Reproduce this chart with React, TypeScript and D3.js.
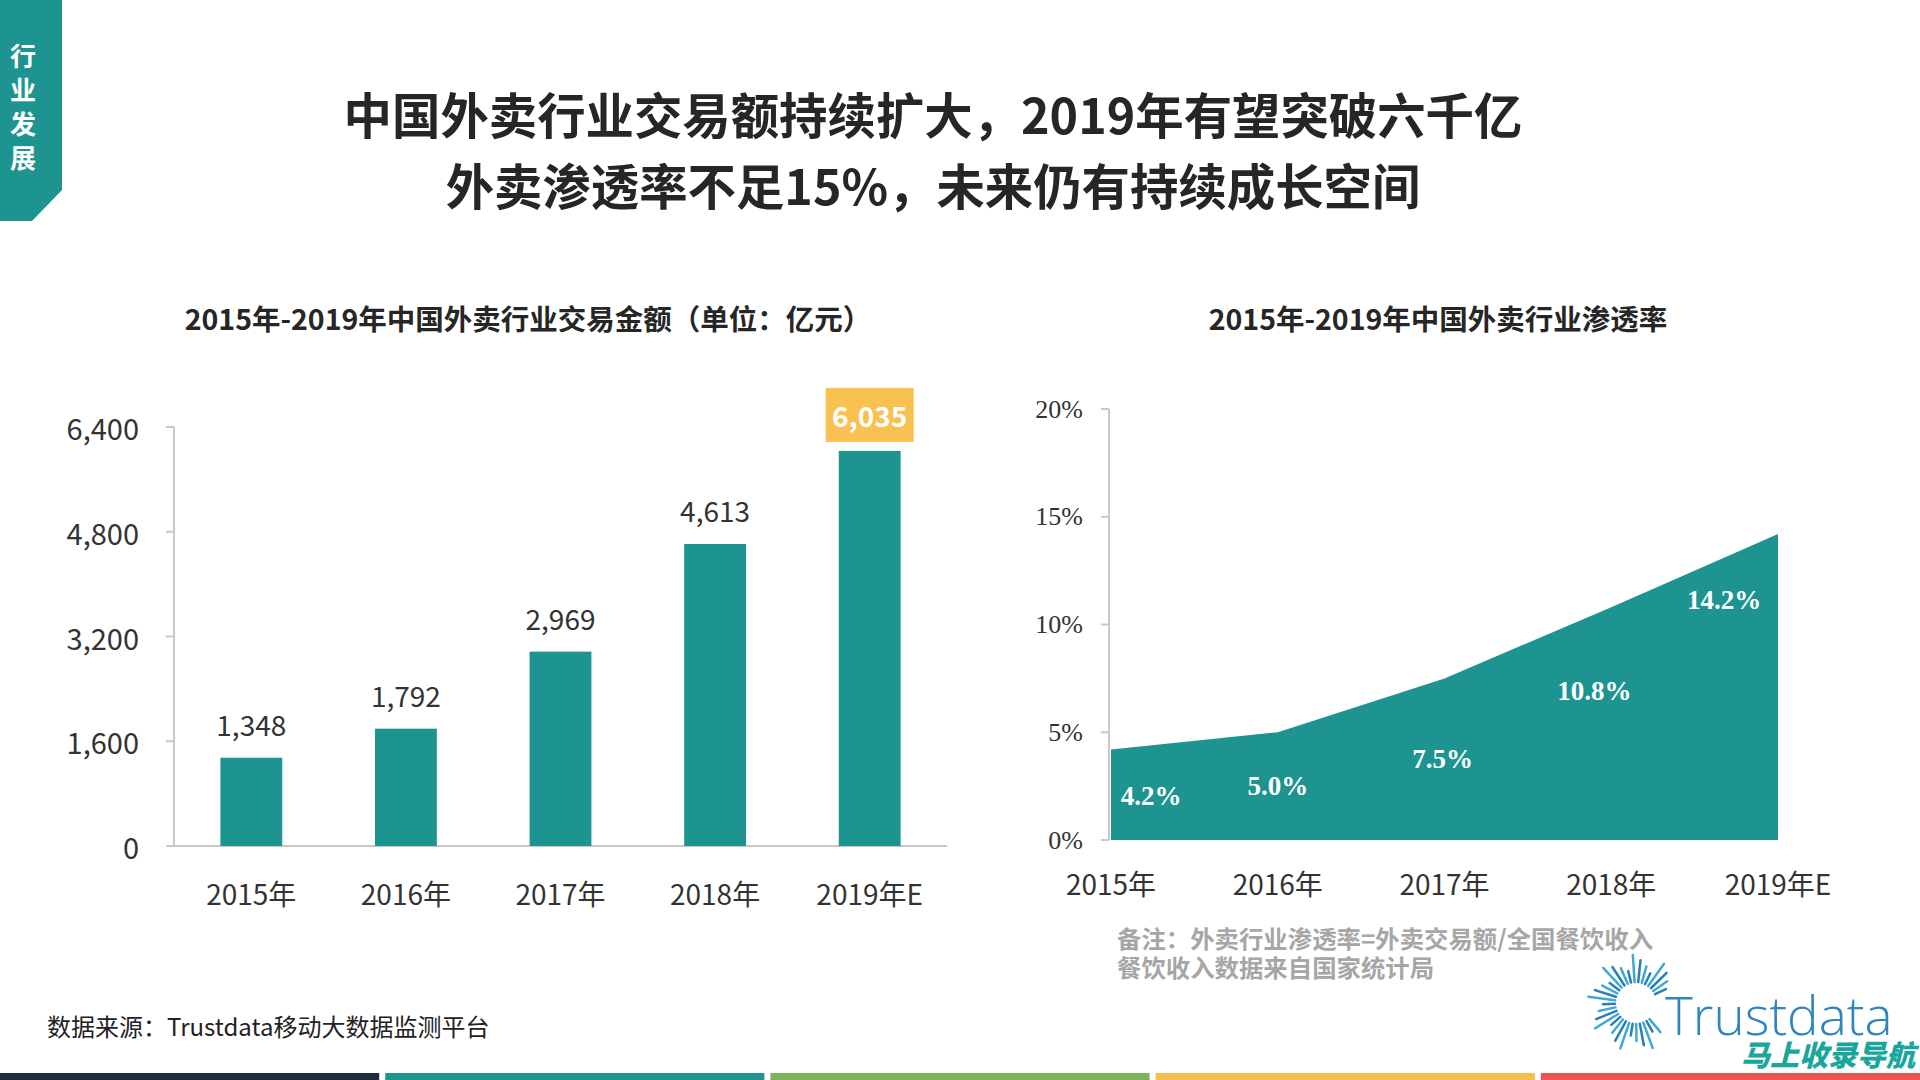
import React from "react";
import * as d3 from "d3";

const years = ["2015年", "2016年", "2017年", "2018年", "2019年E"];
const gmv = [1348, 1792, 2969, 4613, 6035];
const gmvTicks = [0, 1600, 3200, 4800, 6400];
const penetration = [4.2, 5.0, 7.5, 10.8, 14.2];
const penTicks = [0, 5, 10, 15, 20];
const penLabelDx = [40, 0, -2, -17, -54];
const penLabelDy = [47, 54, 81, 84, 66];
const titleLines = [
  "中国外卖行业交易额持续扩大，2019年有望突破六千亿",
  "外卖渗透率不足15%，未来仍有持续成长空间",
];
const sideTab = ["行", "业", "发", "展"];
const noteLines = ["备注：外卖行业渗透率=外卖交易额/全国餐饮收入", "餐饮收入数据来自国家统计局"];
const bottomColors = ["#1F2D3D", "#1E9490", "#7CB45A", "#F5BE4E", "#EE5550"];

const TEAL = "#1E9490";
const CJK = "'Noto Sans CJK SC', 'Noto Sans', sans-serif";
const SERIF = "'Liberation Serif', 'DejaVu Serif', serif";

export default function App() {
  const W = 1920, H = 1080;

  // left bar chart
  const x1 = d3.scaleBand<string>().domain(years).range([174, 947]).paddingInner(0.6).paddingOuter(0.3);
  const y1 = d3.scaleLinear().domain([0, 6400]).range([846, 427]);
  const fmt = d3.format(",");

  // right area chart
  const x2 = d3.scalePoint<string>().domain(years).range([1111, 1778]);
  const y2 = d3.scaleLinear().domain([0, 20]).range([840, 409]);
  const area = d3
    .area<number>()
    .x((_, i) => x2(years[i])!)
    .y0(y2(0))
    .y1((d) => y2(d))
    .curve(d3.curveLinear);

  // bottom stripes
  const xb = d3.scaleBand<number>().domain(d3.range(bottomColors.length)).range([0, W + 6]);

  // sunburst rays: fan from upper-right, over the top and left, to lower-right
  const nRays = 30;
  const rays = d3.range(nRays).map((i) => {
    const deg = 25 + (i / (nRays - 1)) * 285;
    const a = (deg * Math.PI) / 180;
    const len = 12 + ((i * 5) % 4) * 5;
    return { a, r0: 21, r1: 21 + len };
  });

  const last = gmv.length - 1;

  return (
    <svg width={W} height={H} style={{ display: "block", position: "absolute", left: 0, top: 0, background: "#fff" }}>
      <rect width={W} height={H} fill="#fff" />
      {/* side tab */}
      <polygon points="0,0 62,0 62,190 32,221 0,221" fill={TEAL} />
      {sideTab.map((c, i) => (
        <text key={c} x={23} y={54 + i * 34} fill="#fff" fontFamily={CJK} fontWeight={700} fontSize={26} textAnchor="middle" dominantBaseline="central">
          {c}
        </text>
      ))}

      {/* titles */}
      {titleLines.map((t, i) => (
        <text key={i} x={933} y={134 + i * 71} textAnchor="middle" fontFamily={CJK} fontWeight={700} fontSize={48.4} fill="#262626">
          {t}
        </text>
      ))}
      <text x={528} y={330} textAnchor="middle" fontFamily={CJK} fontWeight={700} fontSize={28.5} fill="#262626">
        2015年-2019年中国外卖行业交易金额（单位：亿元）
      </text>
      <text x={1438} y={330} textAnchor="middle" fontFamily={CJK} fontWeight={700} fontSize={28.5} fill="#262626">
        2015年-2019年中国外卖行业渗透率
      </text>

      {/* left axes */}
      <line x1={174} x2={174} y1={y1(6400)} y2={y1(0)} stroke="#C8C8C8" strokeWidth={2} />
      <line x1={166} x2={947} y1={y1(0)} y2={y1(0)} stroke="#C8C8C8" strokeWidth={2} />
      {gmvTicks.map((t) => (
        <g key={t}>
          <line x1={166} x2={174} y1={y1(t)} y2={y1(t)} stroke="#C8C8C8" strokeWidth={2} />
          <text x={139} y={y1(t)} textAnchor="end" dominantBaseline="central" fontFamily={CJK} fontSize={29} fill="#333">
            {fmt(t)}
          </text>
        </g>
      ))}
      {gmv.map((v, i) => (
        <g key={years[i]}>
          <rect x={x1(years[i])} y={y1(v)} width={x1.bandwidth()} height={y1(0) - y1(v)} fill={TEAL} />
          {i !== last && (
            <text x={x1(years[i])! + x1.bandwidth() / 2} y={y1(v) - 34} textAnchor="middle" dominantBaseline="central" fontFamily={CJK} fontSize={28} fill="#333">
              {fmt(v)}
            </text>
          )}
          <text x={x1(years[i])! + x1.bandwidth() / 2} y={893} textAnchor="middle" dominantBaseline="central" fontFamily={CJK} fontSize={28} fill="#333">
            {years[i]}
          </text>
        </g>
      ))}
      <rect x={x1(years[last])! + x1.bandwidth() / 2 - 44} y={y1(gmv[last]) - 63} width={88} height={54} fill="#F8C152" />
      <text x={x1(years[last])! + x1.bandwidth() / 2} y={y1(gmv[last]) - 36} textAnchor="middle" dominantBaseline="central" fontFamily={CJK} fontWeight={700} fontSize={28} fill="#fff">
        {fmt(gmv[last])}
      </text>

      {/* right axes */}
      <line x1={1109} x2={1109} y1={y2(20)} y2={y2(0)} stroke="#C8C8C8" strokeWidth={2} />
      {penTicks.map((t) => (
        <g key={t}>
          <line x1={1101} x2={1109} y1={y2(t)} y2={y2(t)} stroke="#C8C8C8" strokeWidth={2} />
          <text x={1083} y={y2(t)} textAnchor="end" dominantBaseline="central" fontFamily={SERIF} fontSize={26} fill="#333">
            {t}%
          </text>
        </g>
      ))}
      <path d={area(penetration) || ""} fill={TEAL} />
      {penetration.map((v, i) => (
        <text key={i} x={x2(years[i])! + penLabelDx[i]} y={y2(v) + penLabelDy[i]} textAnchor="middle" dominantBaseline="central" fontFamily={SERIF} fontWeight={700} fontSize={27} fill="#fff">
          {v.toFixed(1)}%
        </text>
      ))}
      {years.map((yr) => (
        <text key={yr} x={x2(yr)} y={883} textAnchor="middle" dominantBaseline="central" fontFamily={CJK} fontSize={28} fill="#333">
          {yr}
        </text>
      ))}

      {/* notes */}
      {noteLines.map((t, i) => (
        <text key={i} x={1117} y={948 + i * 29} fontFamily={CJK} fontWeight={700} fontSize={24.4} fill="#A6A6A6">
          {t}
        </text>
      ))}
      <text x={47} y={1036} fontFamily={CJK} fontSize={24} fill="#222">
        数据来源：Trustdata移动大数据监测平台
      </text>

      {/* logo */}
      <g transform="translate(1636,1003)">
        {rays.map((r, i) => (
          <line
            key={i}
            x1={Math.cos(r.a) * r.r0}
            y1={-Math.sin(r.a) * r.r0}
            x2={Math.cos(r.a) * r.r1}
            y2={-Math.sin(r.a) * r.r1}
            stroke={i % 2 ? "#3FA9D6" : "#2B7FB8"}
            strokeWidth={2.5}
            strokeLinecap="round"
          />
        ))}
      </g>
      <text x={1665} y={1035} fontFamily="'Open Sans', Lato, sans-serif" fontWeight={300} fontSize={53} fill="#2E86BD">
        Trustdata
      </text>
      <text x={1741} y={1066} fontFamily={CJK} fontWeight={900} fontStyle="italic" fontSize={29} fill="#19A79D">
        马上收录导航
      </text>

      {/* bottom stripes */}
      {bottomColors.map((c, i) => (
        <rect key={c} x={xb(i)} y={1073} width={xb.bandwidth() - 6} height={7} fill={c} />
      ))}
    </svg>
  );
}
